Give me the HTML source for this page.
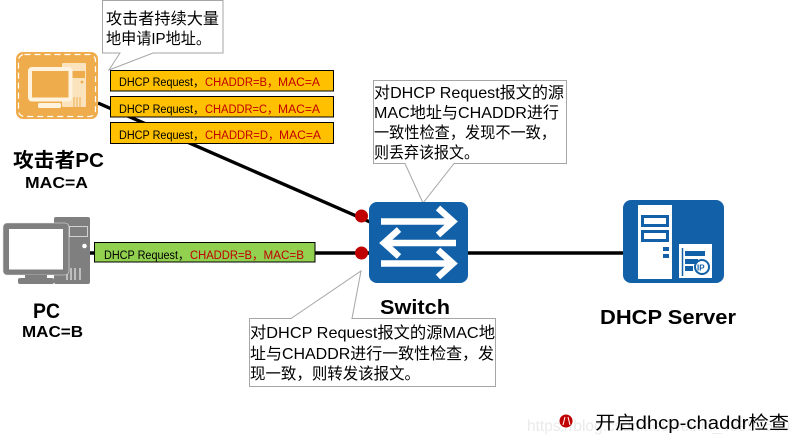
<!DOCTYPE html>
<html><head><meta charset="utf-8"><style>
html,body{margin:0;padding:0;background:#fff}
svg{display:block}
text{font-family:"Liberation Sans","Noto Sans CJK SC",sans-serif;white-space:pre}
.c{font-size:16px;fill:#000}
.b{font-size:11.5px;fill:#000}
.r{fill:#C00000}
.h{font-weight:bold;fill:#000}
</style></head><body>
<svg width="801" height="444" viewBox="0 0 801 444" xmlns="http://www.w3.org/2000/svg">
<rect width="801" height="444" fill="#fff"/>
<!-- lines -->
<line x1="98" y1="103" x2="370" y2="222" stroke="#000" stroke-width="3.4"/>
<line x1="90" y1="253" x2="625" y2="253" stroke="#000" stroke-width="3.4"/>

<!-- callout 1 -->
<path d="M102.5 .5H223V53H153L109 70L120 53H102.5Z" fill="#fff" stroke="#A6A6A6"/>
<text class="c" x="106" y="24" textLength="113" lengthAdjust="spacingAndGlyphs">攻击者持续大量</text>
<text class="c" x="106" y="44" textLength="105" lengthAdjust="spacingAndGlyphs">地申请IP地址。</text>

<!-- attacker icon -->
<rect x="16" y="52" width="82" height="67" rx="7" fill="#EFAC4D"/>
<rect x="18.5" y="54.5" width="77" height="62" rx="6" fill="none" stroke="#fff" stroke-width="1.2" stroke-dasharray="6 4"/>
<rect x="62" y="63" width="24" height="44" rx="1" fill="#FBE3BE"/>
<rect x="72" y="71" width="13" height="7" fill="#EFAC4D"/>
<circle cx="82" cy="82" r="1.4" fill="#EFAC4D"/>
<path d="M74 107V97M77 107V97M80 107V97" stroke="#EFAC4D" stroke-width="1"/>
<rect x="30" y="69" width="40.500" height="30.500" rx="2" fill="#EFAC4D" stroke="#FFF3DF" stroke-width="4"/>
<rect x="38" y="103" width="23" height="5" rx="1.5" fill="#FFF3DF"/>

<!-- orange bars -->
<rect x="110.5" y="70.5" width="223" height="20.5" fill="#FFC000" stroke="#000"/>
<rect x="110.5" y="96.5" width="223" height="20.5" fill="#FFC000" stroke="#000"/>
<rect x="110.5" y="122.5" width="223" height="21" fill="#FFC000" stroke="#000"/>
<text class="b" x="119" y="86" textLength="74" lengthAdjust="spacingAndGlyphs">DHCP Request</text>
<text class="b" x="193" y="86">，</text>
<text class="b r" x="205" y="86" textLength="62" lengthAdjust="spacingAndGlyphs">CHADDR=B</text>
<text class="b r" x="267" y="86">，</text>
<text class="b r" x="278" y="86" textLength="42" lengthAdjust="spacingAndGlyphs">MAC=A</text>
<text class="b" x="119" y="113" textLength="74" lengthAdjust="spacingAndGlyphs">DHCP Request</text>
<text class="b" x="193" y="113">，</text>
<text class="b r" x="205" y="113" textLength="62" lengthAdjust="spacingAndGlyphs">CHADDR=C</text>
<text class="b r" x="267" y="113">，</text>
<text class="b r" x="278" y="113" textLength="42" lengthAdjust="spacingAndGlyphs">MAC=A</text>
<text class="b" x="119" y="139" textLength="74" lengthAdjust="spacingAndGlyphs">DHCP Request</text>
<text class="b" x="193" y="139">，</text>
<text class="b r" x="205" y="139" textLength="63" lengthAdjust="spacingAndGlyphs">CHADDR=D</text>
<text class="b r" x="268" y="139">，</text>
<text class="b r" x="279" y="139" textLength="42" lengthAdjust="spacingAndGlyphs">MAC=A</text>

<text class="h" x="13" y="167" font-size="20" textLength="91" lengthAdjust="spacingAndGlyphs">攻击者PC</text>
<text class="h" x="25" y="188" font-size="15.5" textLength="63" lengthAdjust="spacingAndGlyphs">MAC=A</text>

<!-- PC icon -->
<rect x="54" y="217" width="36" height="67" rx="2" fill="#7F7F7F"/>
<rect x="69.5" y="226.5" width="18" height="10" fill="#7F7F7F" stroke="#E8E8E8" stroke-width=".8"/>
<circle cx="84.5" cy="246" r="2.3" fill="#fff"/>
<path d="M67 280V268M71 280V268M75 280V268M80 280V268" stroke="#E8E8E8" stroke-width="1.2"/>
<rect x="3" y="223" width="66" height="52" rx="4" fill="#7F7F7F" stroke="#E8E8E8" stroke-width=".6"/>
<rect x="9" y="229" width="54" height="40.500" fill="#fff"/>
<rect x="25" y="275" width="22" height="3" fill="#7F7F7F"/>
<rect x="18" y="278" width="36" height="6" rx="2" fill="#7F7F7F"/>

<!-- green bar -->
<rect x="94.5" y="242.5" width="220.5" height="19.5" fill="#92D050" stroke="#000"/>
<text class="b" x="104" y="259" textLength="74" lengthAdjust="spacingAndGlyphs">DHCP Request</text>
<text class="b" x="178" y="259">，</text>
<text class="b r" x="190" y="259" textLength="62" lengthAdjust="spacingAndGlyphs">CHADDR=B</text>
<text class="b r" x="252" y="259">，</text>
<text class="b r" x="263.500" y="259" textLength="40.500" lengthAdjust="spacingAndGlyphs">MAC=B</text>

<text class="h" x="33" y="318" font-size="21" textLength="27" lengthAdjust="spacingAndGlyphs">PC</text>
<text class="h" x="22" y="337" font-size="15.5" textLength="61" lengthAdjust="spacingAndGlyphs">MAC=B</text>

<!-- callout 2 -->
<path d="M373.5 80.5H566.5V163.5H454L423 203L405 163.5H373.5Z" fill="#fff" stroke="#A6A6A6"/>
<text class="c" x="374" y="98" textLength="190" lengthAdjust="spacingAndGlyphs">对DHCP Request报文的源</text>
<text class="c" x="374" y="118" textLength="185" lengthAdjust="spacingAndGlyphs">MAC地址与CHADDR进行</text>
<text class="c" x="374" y="138" textLength="182" lengthAdjust="spacingAndGlyphs">一致性检查，发现不一致，</text>
<text class="c" x="374" y="158" textLength="105" lengthAdjust="spacingAndGlyphs">则丢弃该报文。</text>

<!-- dots -->
<circle cx="361.5" cy="216" r="6.5" fill="#C00000"/>
<circle cx="361.5" cy="253" r="6.5" fill="#C00000"/>

<!-- switch -->
<rect x="369" y="202" width="99" height="81" rx="8" fill="#1160A8"/>
<g fill="none" stroke="#fff" stroke-width="6.500">
<path d="M381 221.500H451"/><path d="M438 208L453 221.500L438 235"/>
<path d="M456 243H386"/><path d="M399 229.500L384 243L399 256.500"/>
<path d="M381 263.500H451"/><path d="M438 250L453 263.500L438 277"/>
</g>
<text class="h" x="380" y="314" font-size="20" textLength="70" lengthAdjust="spacingAndGlyphs">Switch</text>

<!-- callout 3 -->
<path d="M249.500 318.500H291L361 271L352 318.500H495.500V386.500H249.500Z" fill="#fff" stroke="#A6A6A6"/>
<text class="c" x="250" y="338" textLength="245" lengthAdjust="spacingAndGlyphs">对DHCP Request报文的源MAC地</text>
<text class="c" x="250" y="359" textLength="244" lengthAdjust="spacingAndGlyphs">址与CHADDR进行一致性检查，发</text>
<text class="c" x="250" y="379" textLength="170" lengthAdjust="spacingAndGlyphs">现一致，则转发该报文。</text>

<!-- server -->
<rect x="623" y="200" width="101" height="83" rx="8" fill="#1160A8"/>
<rect x="638" y="205" width="34" height="74" fill="#fff"/>
<rect x="642.500" y="216.500" width="25" height="9" fill="#fff" stroke="#1160A8" stroke-width="3"/>
<rect x="642.500" y="231.500" width="25" height="9" fill="#fff" stroke="#1160A8" stroke-width="3"/>
<rect x="663" y="247" width="6" height="4" fill="#1160A8"/>
<rect x="663" y="254" width="6" height="4" fill="#1160A8"/>
<rect x="679" y="244" width="33" height="34" fill="#fff"/>
<path d="M682.500 248V276" stroke="#1160A8" stroke-width="1.500"/>
<rect x="685" y="251" width="20" height="5" fill="#1160A8"/>
<rect x="685" y="259" width="13" height="5" fill="#1160A8"/>
<rect x="685" y="266" width="8" height="5" fill="#1160A8"/>
<circle cx="702" cy="267" r="7" fill="#fff" stroke="#1160A8" stroke-width="2"/>
<text x="697" y="270.500" font-size="8" font-weight="bold" fill="#1160A8">IP</text>
<text class="h" x="600" y="324" font-size="20.500" textLength="136" lengthAdjust="spacingAndGlyphs">DHCP Server</text>

<!-- watermark and legend -->
<text x="527" y="431" font-size="16" fill="#EAEAEA" textLength="263" lengthAdjust="spacingAndGlyphs">https://blog.csdn.net/weixin_43997530</text>
<circle cx="566" cy="421" r="6.500" fill="#C00000"/>
<path d="M565 417L563 425M568 417L570 425" stroke="#fff" stroke-width="1"/>
<text x="595" y="429" font-size="18" fill="#000" textLength="194" lengthAdjust="spacingAndGlyphs">开启dhcp-chaddr检查</text>
</svg>
</body></html>
